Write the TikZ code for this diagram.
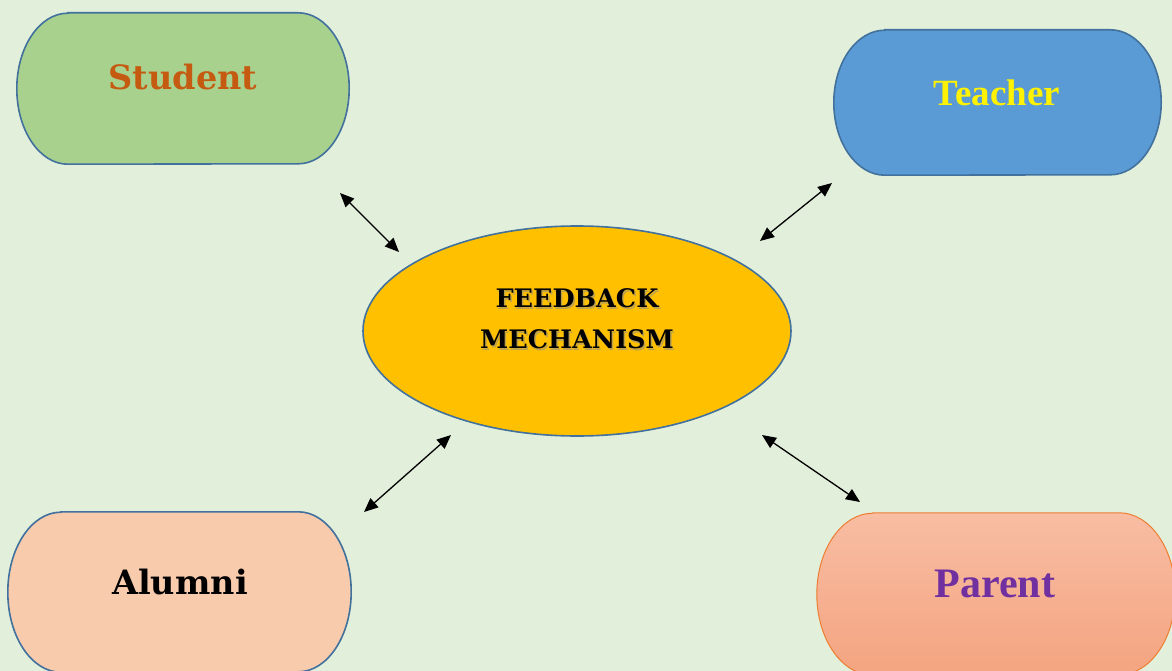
\documentclass[tikz,border=0pt]{standalone}
\usepackage{fontspec}
\newfontfamily\timesfont{Liberation Serif}
\newfontfamily\slabfont{DejaVu Serif}
\usetikzlibrary{arrows.meta,shapes.geometric}
\definecolor{bg}{HTML}{E2EFDA}
\definecolor{edgeblue}{HTML}{41719C}
\definecolor{studentfill}{HTML}{A9D18E}
\definecolor{studenttext}{HTML}{C55A11}
\definecolor{teacherfill}{HTML}{5B9BD5}
\definecolor{alumnifill}{HTML}{F8CBAD}
\definecolor{parenttop}{HTML}{F8BDA3}
\definecolor{parentbot}{HTML}{F4A480}
\definecolor{parentedge}{HTML}{ED7D31}
\definecolor{parenttext}{HTML}{7030A0}
\definecolor{centerfill}{HTML}{FFC000}
\tikzset{
  boxarea/.style={rectangle, inner sep=0pt},
  pilledge/.style={draw=edgeblue, line width=1.6pt},
  lbl/.style={inner sep=0pt, font=\slabfont\bfseries\fontsize{33.5}{38}\selectfont},
  tlbl/.style={inner sep=0pt, font=\timesfont\bfseries\fontsize{37}{42}\selectfont},
  fmtext/.style={inner sep=0pt, align=center, font=\slabfont\bfseries\fontsize{25.5}{41}\selectfont},
  link/.style={line width=1.3pt, {Triangle[length=14pt,width=12pt]}-{Triangle[length=14pt,width=12pt]}},
}
% #1 node name, #2 horizontal radius, #3 vertical radius, #4 path options
\newcommand\pillshape[4]{%
  \path[#4] ([xshift=#2]#1.north west) -- ([xshift=-#2]#1.north east)
    arc[start angle=90, end angle=-90, x radius=#2, y radius=#3]
    -- ([xshift=#2]#1.south west)
    arc[start angle=270, end angle=90, x radius=#2, y radius=#3] -- cycle;}
\begin{document}
\begin{tikzpicture}[x=1pt,y=-1pt]
\fill[bg] (0,0) rectangle (1172,671);
\useasboundingbox (0,0) rectangle (1172,671);
\begin{scope}
\clip (0,0) rectangle (1172,671);
% box areas
\node[boxarea, minimum width=332pt, minimum height=151pt] (student) at (183,88.5) {};
\node[boxarea, minimum width=327pt, minimum height=145pt] (teacher) at (997.5,102.5) {};
\node[boxarea, minimum width=343pt, minimum height=160pt] (alumni) at (179.5,592) {};
\node[boxarea, minimum width=358pt, minimum height=162pt] (parent) at (996,594) {};
\pillshape{student}{51pt}{75.5pt}{pilledge, fill=studentfill}
\pillshape{teacher}{51pt}{72.5pt}{pilledge, fill=teacherfill}
\pillshape{alumni}{53pt}{80pt}{pilledge, fill=alumnifill}
\pillshape{parent}{56pt}{81pt}{draw=parentedge, line width=1pt, top color=parenttop, bottom color=parentbot}
\node[ellipse, draw=edgeblue, line width=1.6pt, fill=centerfill, minimum width=428pt, minimum height=210pt, inner sep=0pt] (fm) at (577,331) {};
% labels
\node[lbl, text=studenttext] (studentlbl) at (183,77) {Student};
\node[tlbl, text=yellow] (teacherlbl) at (997,93) {Teacher};
\node[lbl, text=black] (alumnilbl) at (180,582) {Alumni};
\node[tlbl, text=parenttext, font=\timesfont\bfseries\fontsize{42}{46}\selectfont] (parentlbl) at (995,584) {Parent};
\node[fmtext, text=black!45, opacity=0.55] (fmshadow) at (578.5,320.5) {FEEDBACK\\MECHANISM};
\node[fmtext, text=black] (fmlbl) at (577,319) {FEEDBACK\\MECHANISM};
% arrow ends
\coordinate (s1) at (340,193); \coordinate (s2) at (399,252);
\coordinate (t1) at (832,183); \coordinate (t2) at (760,241);
\coordinate (a1) at (364,512); \coordinate (a2) at (451,435);
\coordinate (p1) at (762,435); \coordinate (p2) at (860,502);
\draw[link] (s1) -- (s2);
\draw[link] (t1) -- (t2);
\draw[link] (a1) -- (a2);
\draw[link] (p1) -- (p2);
\end{scope}
\end{tikzpicture}
\end{document}
